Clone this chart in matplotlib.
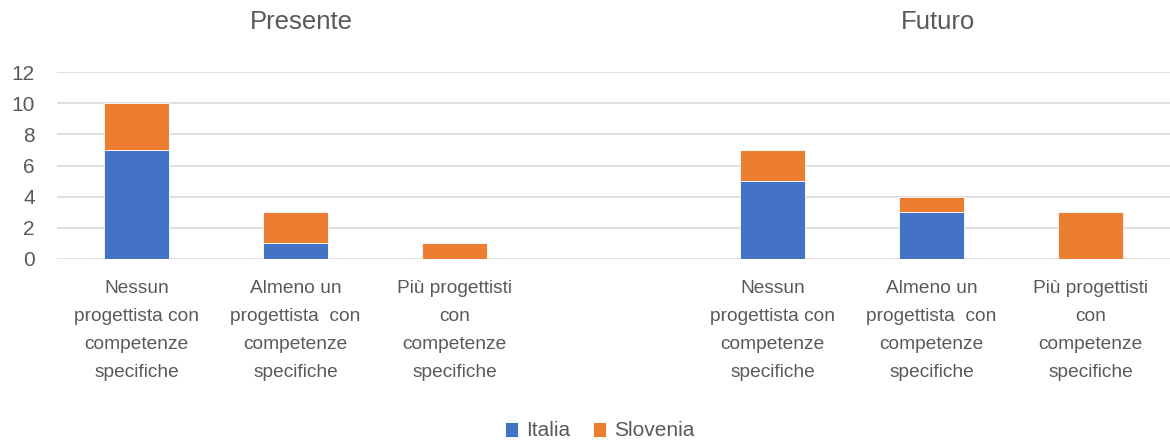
import matplotlib.pyplot as plt
import matplotlib.transforms as mtransforms
import numpy as np

plt.rcParams['font.family'] = ['Liberation Sans', 'DejaVu Sans']

categories = [
    "Nessun\nprogettista con\ncompetenze\nspecifiche",
    "Almeno un\nprogettista  con\ncompetenze\nspecifiche",
    "Più progettisti\ncon\ncompetenze\nspecifiche",
    "",
    "Nessun\nprogettista con\ncompetenze\nspecifiche",
    "Almeno un\nprogettista  con\ncompetenze\nspecifiche",
    "Più progettisti\ncon\ncompetenze\nspecifiche",
]
italia = [7, 1, 0, 0, 5, 3, 0]
slovenia = [3, 2, 1, 0, 2, 1, 3]
groups = ["Presente", "Futuro"]
group_centers = [1, 5]

gray = "#595959"
x = np.arange(len(categories))
italia = np.array(italia)
slovenia = np.array(slovenia)

fig = plt.figure(figsize=(11.7, 4.43), dpi=100)
ax = fig.add_axes([57 / 1170, 184 / 443, 1113 / 1170, 187 / 443])

ax.bar(x, italia, width=0.415, color="#4472C4", label="Italia",
       edgecolor="white", linewidth=0.6)
ax.bar(x, slovenia, width=0.415, bottom=italia, color="#ED7D31",
       label="Slovenia", edgecolor="white", linewidth=0.6)

ax.set_xlim(-0.5, len(categories) - 0.5)
ax.set_ylim(0, 12)
ax.set_yticks(range(0, 13, 2))
ax.grid(axis="y", color="#D9D9D9", linewidth=1.2)
ax.set_axisbelow(True)
for s in ax.spines.values():
    s.set_visible(False)
ax.tick_params(axis="both", length=0, colors=gray)
ax.tick_params(axis="y", pad=16, labelsize=15)
ax.set_xticks(x)
ax.set_xticklabels(categories, linespacing=1.85, fontsize=13.8, va="top")
ax.tick_params(axis="x", pad=15)

trans = mtransforms.blended_transform_factory(ax.transData, fig.transFigure)
for name, cx in zip(groups, group_centers):
    ax.text(cx + 0.04, 1 - 22 / 443, name, transform=trans, ha="center",
            va="center", fontsize=18.5, color=gray)

fig.legend(loc="center", bbox_to_anchor=(600 / 1170, 1 - 431 / 443), ncol=2,
           frameon=False, fontsize=15, labelcolor=gray, handlelength=0.6,
           handleheight=0.7, handletextpad=0.4, columnspacing=1.1)

fig.savefig("out.png", dpi=100)
